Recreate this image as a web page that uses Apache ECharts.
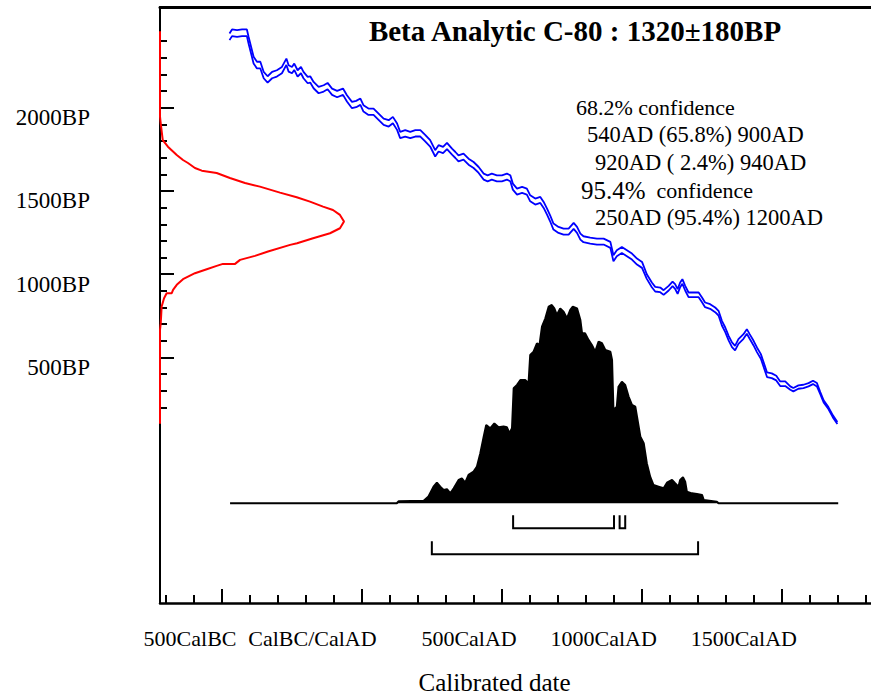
<!DOCTYPE html>
<html>
<head>
<meta charset="utf-8">
<script src="https://cdn.jsdelivr.net/npm/echarts@6.0.0/dist/echarts.min.js"></script>
<style>
  html, body { margin: 0; padding: 0; background: #fff; }
  #chart { width: 871px; height: 698px; }
</style>
</head>
<body>
<div id="chart"></div>
<script>
// calibration curve (IntCal), cal year AD -> radiocarbon age BP, with 1 sigma
var calYear = [-472,-463,-445,-427,-410,-404,-395,-386,-374,-362,
  -350,-336,-320,-303,-285,-269,-261,-249,-241,-229,
  -217,-208,-193,-184,-172,-154,-136,-122,-106,-88,
  -67,-53,-35,-20,-5,6,24,42,60,78,
  96,111,126,137,155,173,191,209,227,244,
  262,274,290,304,322,334,345,363,381,399,
  417,435,449,464,482,500,518,530,539,554,
  572,589,601,619,637,649,661,672,684,702,
  720,738,756,768,780,791,815,839,863,887,
  898,910,928,946,964,982,1000,1017,1035,1047,
  1065,1077,1095,1109,1118,1127,1136,1144,1154,1166,
  1184,1202,1214,1225,1243,1261,1273,1285,1297,1309,
  1321,1332,1344,1362,1374,1384,1398,1410,1424,1436,
  1446,1463,1479,1493,1511,1529,1540,1558,1576,1594,
  1610,1624,1636,1648,1665,1681,1697];
var calBP = [2426,2450,2446,2450,2450,2406,2346,2286,2256,2256,
  2196,2170,2196,2206,2226,2276,2236,2226,2246,2206,
  2226,2196,2166,2170,2136,2106,2116,2130,2096,2082,
  2096,2056,2016,2022,2036,1996,1976,1976,1946,1916,
  1906,1926,1886,1836,1846,1836,1846,1846,1816,1786,
  1726,1756,1746,1770,1736,1716,1696,1706,1676,1656,
  1626,1586,1576,1586,1576,1576,1586,1576,1526,1496,
  1506,1496,1456,1436,1446,1416,1376,1336,1286,1266,
  1256,1256,1290,1266,1226,1210,1202,1196,1196,1176,
  1096,1126,1146,1126,1106,1076,1056,986,936,910,
  906,890,916,942,926,896,936,956,916,876,
  876,876,846,816,806,786,766,706,666,616,
  576,556,596,626,656,626,586,546,506,446,
  396,390,376,342,342,316,306,322,326,336,
  350,336,286,236,196,146,106];
var calErr = [20,20,20,20,20,20,20,20,20,20,
  19,19,19,19,19,19,19,19,19,19,
  19,19,19,19,19,19,19,19,19,19,
  19,19,19,19,19,19,19,19,19,19,
  19,19,19,19,19,19,19,19,19,19,
  19,19,19,19,18,18,18,18,18,18,
  18,18,18,18,18,18,18,18,18,18,
  18,18,18,18,18,18,18,18,18,18,
  18,18,18,18,18,18,18,18,18,18,
  18,18,18,18,18,18,18,14,14,14,
  14,14,14,14,14,14,14,14,14,14,
  14,14,14,14,14,14,14,14,14,14,
  14,14,14,14,14,14,14,14,14,14,
  14,14,14,14,14,10,10,10,10,10,
  10,10,6,6,6,6,6];

// measured radiocarbon age distribution (red), BP -> relative probability
var bpDistBP = [2460,1946,1896,1806,1766,1716,1686,1668,1638,1622,
  1608,1578,1548,1526,1490,1462,1436,1406,1386,1356,
  1316,1276,1246,1216,1186,1176,1136,1110,1086,1062,
  1062,1050,1030,1006,970,936,906,886,886,856,
  806,706,666,102];
var bpDistProb = [0,0,0.005,0.015,0.043,0.091,0.125,0.152,0.190,0.227,
  0.308,0.380,0.462,0.543,0.652,0.743,0.815,0.886,0.940,0.978,
  1.0,0.978,0.924,0.832,0.745,0.707,0.587,0.516,0.435,0.408,
  0.342,0.308,0.254,0.190,0.125,0.091,0.071,0.064,0.036,0.022,
  0.009,0.004,0,0];

// calibrated date distribution (black), cal year AD -> relative probability
var calDistYear = [-470,125,131,221,238,256,268,280,292,304,
  316,328,346,357,369,381,399,411,423,435,
  444,458,473,488,506,518,527,536,542,554,
  566,583,595,601,613,625,634,643,655,667,
  678,687,696,708,720,732,744,753,768,780,
  786,797,809,821,833,845,857,869,887,893,
  898,910,916,928,940,952,964,976,982,994,
  1006,1017,1029,1041,1059,1077,1089,1107,1118,1130,
  1136,1146,1154,1160,1178,1196,1214,1220,1267,1273,
  1700];
var calDistProb = [0,0,0.010,0.013,0.034,0.084,0.104,0.084,0.067,0.071,
  0.050,0.076,0.118,0.126,0.104,0.143,0.160,0.185,0.252,0.336,
  0.395,0.378,0.403,0.383,0.387,0.383,0.353,0.378,0.580,0.597,
  0.622,0.622,0.605,0.748,0.765,0.807,0.798,0.891,0.933,0.992,
  1.0,0.983,0.950,0.983,0.966,0.933,0.975,0.992,0.983,0.924,
  0.857,0.857,0.824,0.798,0.765,0.815,0.807,0.773,0.765,0.723,
  0.471,0.487,0.588,0.613,0.597,0.538,0.496,0.487,0.437,0.336,
  0.303,0.202,0.134,0.092,0.084,0.076,0.104,0.118,0.101,0.084,
  0.118,0.131,0.109,0.059,0.050,0.047,0.042,0.017,0.008,0,
  0];

// confidence ranges (cal AD)
var ranges68 = [[540, 900], [920, 940]];
var ranges95 = [[250, 1200]];

// axis ticks
var xTickValues = [-500, 0, 500, 1000, 1500];
var xTickLabels = ['500CalBC', 'CalBC/CalAD', '500CalAD', '1000CalAD', '1500CalAD'];
var xMinorTicks = [-700,-600,-400,-300,-200,-100,100,200,300,400,600,700,800,900,
  1100,1200,1300,1400,1600,1700,1800];
var yTickValues = [500, 1000, 1500, 2000];
var yTickLabels = ['500BP', '1000BP', '1500BP', '2000BP'];
var yMinorTicks = [200,300,400,600,700,800,900,1100,1200,1300,1400,1600,1700,1800,1900,
  2100,2200,2300,2400];

var titleText = 'Beta Analytic C-80 : 1320\u00b1180BP';
var rangeText = [
  '68.2% confidence',
  '540AD (65.8%) 900AD',
  '920AD ( 2.4%) 940AD',
  '{b|95.4%}{s|  confidence}',
  '250AD (95.4%) 1200AD'
];

var FONT = '"Liberation Serif", "Times New Roman", serif';
var X_LABEL_SHIFT = 53;   // labels sit right-aligned a little past the tick
var Y_LABEL_SHIFT = -60;  // labels sit a little below the tick

var calUpper = [], calLower = [];
for (var i = 0; i < calYear.length; i++) {
  calUpper.push([calYear[i], calBP[i] + calErr[i]]);
  calLower.push([calYear[i], calBP[i] - calErr[i]]);
}
var bpDist = bpDistBP.map(function (b, i) { return [bpDistProb[i], b]; });
var calDist = calDistYear.map(function (y, i) { return [y, calDistProb[i]]; });
var bracketData = ranges68.map(function (r) { return [r[0], r[1], 0]; })
  .concat(ranges95.map(function (r) { return [r[0], r[1], 1]; }));

var chart = echarts.init(document.getElementById('chart'), null, { renderer: 'svg' });

var noSplit = { show: false };
var option = {
  animation: false,
  backgroundColor: '#fff',
  grid: { left: 160, right: 0, top: 7, bottom: 95, containLabel: false },
  xAxis: [{
    // 0: calendar years, major ticks + labels
    type: 'value', position: 'bottom', min: -720, max: 1817,
    axisLine: { onZero: false, lineStyle: { color: '#000', width: 2.5 } },
    axisTick: { inside: true, length: 14, customValues: xTickValues, lineStyle: { color: '#000', width: 2 } },
    axisLabel: {
      customValues: xTickValues.map(function (v) { return v + X_LABEL_SHIFT; }),
      align: 'right', verticalAlign: 'middle', margin: 35,
      fontFamily: FONT, fontSize: 22, color: '#000',
      formatter: function (v) { return xTickLabels[xTickValues.indexOf(Math.round(v - X_LABEL_SHIFT))] || ''; }
    },
    splitLine: noSplit
  }, {
    // 1: minor ticks
    type: 'value', position: 'bottom', min: -720, max: 1817,
    axisLine: { show: false, onZero: false },
    axisTick: { inside: true, length: 8, customValues: xMinorTicks, lineStyle: { color: '#000', width: 2 } },
    axisLabel: { show: false }, splitLine: noSplit
  }, {
    // 2: top frame line
    type: 'value', position: 'top', min: -720, max: 1817,
    axisLine: { onZero: false, lineStyle: { color: '#000', width: 3 } },
    axisTick: { show: false }, axisLabel: { show: false }, splitLine: noSplit
  }, {
    // 3: probability for the BP distribution
    type: 'value', position: 'bottom', min: 0, max: 3.864, show: false,
    axisLine: { onZero: false }, splitLine: noSplit
  }],
  yAxis: [{
    // 0: radiocarbon age BP
    type: 'value', position: 'left', min: -975, max: 2605,
    axisLine: { onZero: false, lineStyle: { color: '#000', width: 2 } },
    axisTick: { inside: true, length: 14, customValues: yTickValues, lineStyle: { color: '#000', width: 2 } },
    axisLabel: {
      customValues: yTickValues.map(function (v) { return v + Y_LABEL_SHIFT; }),
      margin: 70, fontFamily: FONT, fontSize: 23, color: '#000',
      formatter: function (v) { return yTickLabels[yTickValues.indexOf(Math.round(v - Y_LABEL_SHIFT))] || ''; }
    },
    splitLine: noSplit
  }, {
    // 1: minor ticks
    type: 'value', position: 'left', min: -975, max: 2605,
    axisLine: { show: false, onZero: false },
    axisTick: { inside: true, length: 7, customValues: yMinorTicks, lineStyle: { color: '#000', width: 2 } },
    axisLabel: { show: false }, splitLine: noSplit
  }, {
    // 2: probability for the calibrated distribution
    type: 'value', position: 'left', min: -0.503, max: 2.503, show: false,
    axisLine: { onZero: false }, splitLine: noSplit
  }],
  series: [{
    name: 'calibrated', type: 'line', xAxisIndex: 0, yAxisIndex: 2,
    data: calDist, symbol: 'none', z: 2,
    lineStyle: { color: '#000', width: 2 },
    areaStyle: { color: '#000', opacity: 1 }
  }, {
    name: 'ranges', type: 'custom', xAxisIndex: 0, yAxisIndex: 2, z: 3,
    data: bracketData,
    renderItem: function (params, api) {
      var x0 = api.coord([api.value(0), 0])[0];
      var x1 = api.coord([api.value(1), 0])[0];
      var base = api.coord([0, 0])[1];
      var top = base + 12 + 26 * api.value(2);
      var bot = top + 13;
      return {
        type: 'polyline',
        shape: { points: [[x0, top], [x0, bot], [x1, bot], [x1, top]] },
        style: { stroke: '#000', lineWidth: 2, fill: null }
      };
    }
  }, {
    name: 'curve upper', type: 'line', xAxisIndex: 0, yAxisIndex: 0,
    data: calUpper, symbol: 'none', z: 4,
    lineStyle: { color: '#0000ff', width: 1.8 }
  }, {
    name: 'curve lower', type: 'line', xAxisIndex: 0, yAxisIndex: 0,
    data: calLower, symbol: 'none', z: 4,
    lineStyle: { color: '#0000ff', width: 1.8 }
  }, {
    name: 'radiocarbon', type: 'line', xAxisIndex: 3, yAxisIndex: 0,
    data: bpDist, symbol: 'none', z: 5,
    lineStyle: { color: '#ff0000', width: 2 }
  }],
  graphic: [
    { type: 'text', x: 575, y: 31, style: { text: titleText, font: 'bold 29px ' + FONT,
      align: 'center', verticalAlign: 'middle', textAlign: 'center', textVerticalAlign: 'middle', fill: '#000' } },
    { type: 'text', x: 576, y: 107, style: { text: rangeText[0], font: '22px ' + FONT,
      verticalAlign: 'middle', textVerticalAlign: 'middle', fill: '#000' } },
    { type: 'text', x: 587, y: 134.5, style: { text: rangeText[1], font: '22.5px ' + FONT,
      verticalAlign: 'middle', textVerticalAlign: 'middle', fill: '#000' } },
    { type: 'text', x: 595, y: 162.5, style: { text: rangeText[2], font: '22.5px ' + FONT,
      verticalAlign: 'middle', textVerticalAlign: 'middle', fill: '#000' } },
    { type: 'text', x: 581, y: 190, style: { text: rangeText[3], font: '22px ' + FONT,
      verticalAlign: 'middle', textVerticalAlign: 'middle', fill: '#000',
      rich: { b: { fontFamily: FONT, fontSize: 25, fill: '#000' }, s: { fontFamily: FONT, fontSize: 22, fill: '#000' } } } },
    { type: 'text', x: 595, y: 217, style: { text: rangeText[4], font: '22.5px ' + FONT,
      verticalAlign: 'middle', textVerticalAlign: 'middle', fill: '#000' } },
    { type: 'text', x: 494.5, y: 682, style: { text: 'Calibrated date', font: '25px ' + FONT,
      align: 'center', verticalAlign: 'middle', textAlign: 'center', textVerticalAlign: 'middle', fill: '#000' } }
  ]
};
chart.setOption(option);
</script>
</body>
</html>
